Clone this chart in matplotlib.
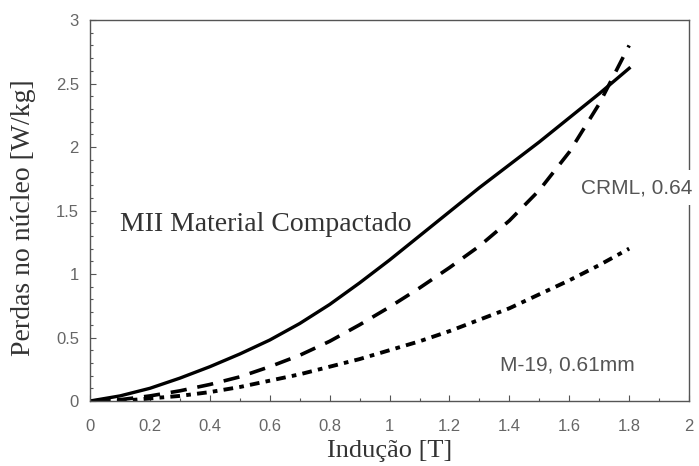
import matplotlib
matplotlib.use("Agg")
import matplotlib.pyplot as plt
from matplotlib.ticker import MultipleLocator

# leitura aproximada das curvas
inducao = [0.0, 0.1, 0.2, 0.3, 0.4, 0.5, 0.6, 0.7, 0.8, 0.9,
           1.0, 1.1, 1.2, 1.3, 1.4, 1.5, 1.6, 1.7, 1.8]
perdas_mii = [0.0, 0.04, 0.10, 0.18, 0.27, 0.37, 0.48, 0.61, 0.76, 0.93,
              1.11, 1.30, 1.49, 1.68, 1.86, 2.04, 2.23, 2.42, 2.62]
perdas_crml = [0.0, 0.01, 0.04, 0.08, 0.13, 0.19, 0.27, 0.36, 0.47, 0.60,
               0.74, 0.89, 1.05, 1.22, 1.42, 1.66, 1.96, 2.34, 2.80]
perdas_m19 = [0.0, 0.0, 0.02, 0.04, 0.07, 0.11, 0.16, 0.21, 0.27, 0.33,
              0.40, 0.47, 0.55, 0.64, 0.73, 0.84, 0.95, 1.07, 1.20]

x_ticks = [0, 0.2, 0.4, 0.6, 0.8, 1, 1.2, 1.4, 1.6, 1.8, 2]
x_labels = ["0", "0.2", "0.4", "0.6", "0.8", "1", "1.2", "1.4", "1.6", "1.8", "2"]
y_ticks = [0, 0.5, 1, 1.5, 2, 2.5, 3]
y_labels = ["0", "0.5", "1", "1.5", "2", "2.5", "3"]

serif = "Liberation Serif"
sans = "Liberation Sans"
cinza = "#555555"

fig = plt.figure(figsize=(6.99, 4.66), dpi=100)
ax = fig.add_axes([0.1288, 0.1395, 0.857, 0.8175])

ax.plot(inducao, perdas_mii, color="black", lw=2.4)
ax.plot(inducao, perdas_crml, color="black", lw=2.6, dashes=(4.5, 3))
ax.plot(inducao, perdas_m19, color="black", lw=2.8, dashes=(2.5, 1.6, 1.2, 1.6))

ax.set_xlim(0, 2)
ax.set_ylim(0, 3)
ax.set_xticks(x_ticks)
ax.set_xticklabels(x_labels)
ax.set_yticks(y_ticks)
ax.set_yticklabels(y_labels)
ax.xaxis.set_minor_locator(MultipleLocator(0.1))
ax.yaxis.set_minor_locator(MultipleLocator(0.1))
ax.tick_params(which="both", direction="in", color=cinza, width=0.8)
ax.tick_params(which="major", length=4)
ax.tick_params(which="minor", length=2.5)
ax.tick_params(axis="both", labelsize=12, labelcolor="#666666")
ax.tick_params(axis="x", pad=13)
ax.tick_params(axis="y", pad=8)
for lab in ax.get_xticklabels() + ax.get_yticklabels():
    lab.set_family(sans)
for s in ax.spines.values():
    s.set_color(cinza)
    s.set_linewidth(1.0)

ax.set_xlabel("Indução [T]", family=serif, fontsize=19, color="#333333")
ax.set_ylabel("Perdas no núcleo [W/kg]", family=serif, fontsize=20, color="#333333")
ax.xaxis.set_label_coords(0.5, -0.103)
ax.yaxis.set_label_coords(-0.09, 0.48)

ax.text(0.1, 1.39, "MII Material Compactado", family=serif, fontsize=20, color="#333333",
        va="center", ha="left")
ax.text(1.64, 1.68, "CRML, 0.64", family=sans, fontsize=15, color="#555555",
        va="center", ha="left", clip_on=False, zorder=5,
        bbox=dict(facecolor="white", edgecolor="none", pad=6))
ax.text(1.593, 0.28, "M-19, 0.61mm", family=sans, fontsize=15, color="#555555",
        va="center", ha="center")

fig.savefig("out.png", dpi=100)
